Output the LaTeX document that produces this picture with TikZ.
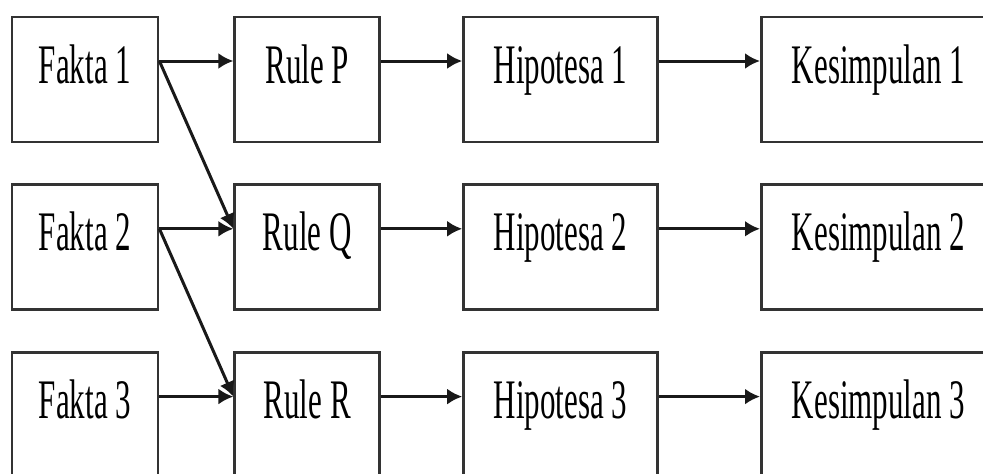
\documentclass[tikz,border=0pt]{standalone}
\usepackage{graphicx}
\usepackage{fontspec}
\setmainfont{Liberation Serif}
\usetikzlibrary{positioning}
\usetikzlibrary{arrows.meta}

\newcommand{\tall}[1]{\scalebox{1}[1.8]{#1}}

\begin{document}
\begin{tikzpicture}[>={Latex[length=15pt,width=16pt]},node distance=40pt and 74pt]
\tikzstyle{block}=[rectangle,
  draw=black!80,line width=2.8pt,fill=white,
  minimum height=125pt,
  text height=37pt,text depth=30pt,inner sep=0pt,
  font=\fontsize{31}{36}\selectfont
]

\tikzstyle{link}=[->,line width=3pt,black!90]

\useasboundingbox (0,0) rectangle (983pt,-474pt);

% first row
\node[block,minimum width=146pt] (f1) at (85pt,-79.5pt) {\tall{Fakta 1}};
\node[block,minimum width=145pt,right=74pt of f1]  (rP) {\tall{Rule P}};
\node[block,minimum width=194pt,right=81pt of rP]  (h1) {\tall{Hipotesa 1}};
\node[block,minimum width=234pt,right=101pt of h1] (k1) {\tall{Kesimpulan 1}};

% second row
\node[block,minimum width=146pt,below=40pt of f1] (f2) {\tall{Fakta 2}};
\node[block,minimum width=145pt,below=40pt of rP] (rQ) {\tall{Rule Q}};
\node[block,minimum width=194pt,below=40pt of h1] (h2) {\tall{Hipotesa 2}};
\node[block,minimum width=234pt,below=40pt of k1] (k2) {\tall{Kesimpulan 2}};

% third row
\node[block,minimum width=146pt,below=40pt of f2] (f3) {\tall{Fakta 3}};
\node[block,minimum width=145pt,below=40pt of rQ] (rR) {\tall{Rule R}};
\node[block,minimum width=194pt,below=40pt of h2] (h3) {\tall{Hipotesa 3}};
\node[block,minimum width=234pt,below=40pt of k2] (k3) {\tall{Kesimpulan 3}};

\draw[link] ([yshift=18.5pt]f1.east) -- ([yshift=18.5pt]rP.west);
\draw[link] ([yshift=18.5pt]f1.east) -- ([yshift=18.5pt]rQ.west);
\draw[link] ([yshift=18.5pt]f2.east) -- ([yshift=18.5pt]rQ.west);
\draw[link] ([yshift=18.5pt]f2.east) -- ([yshift=18.5pt]rR.west);
\draw[link] ([yshift=18.5pt]f3.east) -- ([yshift=18.5pt]rR.west);

\draw[link] ([yshift=18.5pt]rP.east) -- ([yshift=18.5pt]h1.west);
\draw[link] ([yshift=18.5pt]rQ.east) -- ([yshift=18.5pt]h2.west);
\draw[link] ([yshift=18.5pt]rR.east) -- ([yshift=18.5pt]h3.west);

\draw[link] ([yshift=18.5pt]h1.east) -- ([yshift=18.5pt]k1.west);
\draw[link] ([yshift=18.5pt]h2.east) -- ([yshift=18.5pt]k2.west);
\draw[link] ([yshift=18.5pt]h3.east) -- ([yshift=18.5pt]k3.west);
\end{tikzpicture}
\end{document}
